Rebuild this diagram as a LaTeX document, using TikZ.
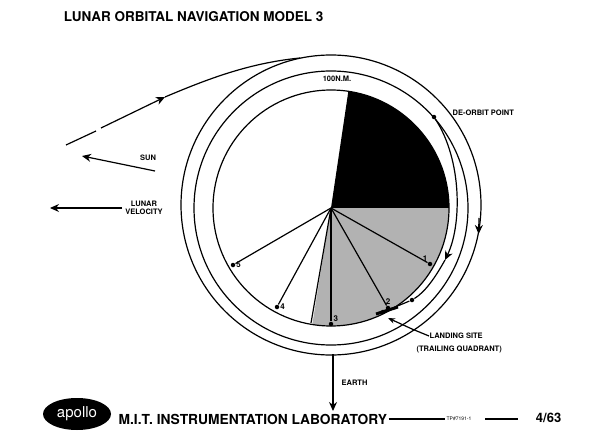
\documentclass[tikz,border=0pt]{standalone}
\usepackage{fontspec}
\setmainfont{TeX Gyre Heros}
\usetikzlibrary{arrows.meta}
\usetikzlibrary{positioning}
\usetikzlibrary{shapes.geometric}

\begin{document}
\begin{tikzpicture}[x=1pt,y=-1pt, line width=1.2pt,
                dot/.style = {circle, fill, inner sep = 0mm, minimum size = 4.5pt},
                lbl/.style = {font=\bfseries\fontsize{7.5}{8.5}\selectfont, inner sep=0pt, align=center},
                num/.style = {font=\bfseries\fontsize{8}{9}\selectfont, inner sep=0pt},
                arr/.style = {draw, -{Stealth[length=9pt, width=8pt]}},
                ring/.style = {draw},
            ]
            \useasboundingbox (0,0) rectangle (600,436);
            \coordinate (c) at (331,208);

            % moon surface
            \begin{scope}
                \clip (c) circle[radius=118];
                \fill (c) -- (353,60) -- (500,60) -- (500,208) -- cycle;
                \fill[gray!60] (c) -- (500,208) -- (500,420) -- (297,420) -- cycle;
            \end{scope}
            \draw[ring] (c) circle[radius=118];
            \draw[ring] (c) circle[radius=137];
            \draw[ring] (331,205) circle[radius=150];

            % sightings
            \node (p1) [dot, label={[num]above left:1}] at (430,264){};
            \node (p2) [dot, label={[num]above:2}] at (388,308){};
            \node (p3) [dot, label={[num]above right:3}] at (331,324){};
            \node (p4) [dot, label={[num]right:4}] at (277,307){};
            \node (p5) [dot, label={[num]right:5}] at (233,265){};
            \foreach \p in {p1,p2,p3,p4,p5}
                \draw (c) -- (\p);
            \draw (c) -- (311,323);

            % approach and descent
            \coordinate (a0) at (66,145);
            \coordinate (a1) at (96,131);
            \coordinate (a2) at (101,128);
            \coordinate (a3) at (165,97);
            \coordinate (a4) at (300,58);
            \draw (a0) -- (a1);
            \path[arr] (a2) -- (a3);
            \draw (a3) .. controls (210,78) and (250,63) .. (a4);
            \coordinate (r1) at (479,218);
            \coordinate (r2) at (478.6,234);
            \path[arr] (r1) -- (r2);

            \node (deo) [dot] at (434,117){};
            \coordinate (d1) at (445,260);
            \node (d2) [dot] at (412,300){};
            \node (ls) [dot] at (383,312){};
            \path[arr] (deo) .. controls (462,160) and (462,225) .. (d1);
            \draw (d1) .. controls (435,278) and (425,292) .. (d2) -- (ls);
            \draw[line width=3pt] (376,314) -- (398,307);

            % labels
            \node (title) [anchor=west, font=\bfseries\fontsize{13.5}{15}\selectfont] at (60,17) {LUNAR ORBITAL NAVIGATION MODEL 3};
            \node (nm) [lbl] at (337,79) {100N.M.};
            \node (deol) [lbl, anchor=west] at (452,113) {DE-ORBIT POINT};
            \node (lsl) [lbl, anchor=west] at (429,336) {LANDING SITE};
            \node (tql) [lbl, anchor=west] at (416,349) {(TRAILING QUADRANT)};
            \draw[-{Stealth[length=7pt]}] (lsl.west) -- (412,329) -- (388,318);

            \node (sunl) [lbl] at (148,158) {SUN};
            \coordinate (s0) at (155,171);
            \coordinate (s1) at (82,156);
            \path[arr] (s0) -- (s1);
            \node (vell) [lbl] at (144,208) {LUNAR\\VELOCITY};
            \coordinate (v0) at (122,208);
            \coordinate (v1) at (50,208);
            \path[arr] (v0) -- (v1);
            \node (earthl) [lbl, anchor=west] at (341,383) {EARTH};
            \coordinate (e0) at (333,354);
            \coordinate (e1) at (333,411);
            \path[arr] (e0) -- (e1);

            % footer
            \node (logo) [fill, ellipse, minimum width=68pt, minimum height=32pt, inner sep=0pt, text=white,
                font=\fontsize{15}{17}\selectfont] at (77,414) {apollo};
            \node (lab) [anchor=west, inner sep=1pt, font=\bfseries\fontsize{13.8}{16}\selectfont] at (117,419) {M.I.T. INSTRUMENTATION LABORATORY};
            \node (tp) [font=\fontsize{5}{6}\selectfont, inner sep=1pt] at (459,419) {TP\#7191-1};
            \node (date) [anchor=west, font=\bfseries\fontsize{13}{14}\selectfont] at (532,418) {4/63};
            \draw (lab.east) -- (tp.west);
            \draw (485,419) -- (518,419);
        \end{tikzpicture}
\end{document}
